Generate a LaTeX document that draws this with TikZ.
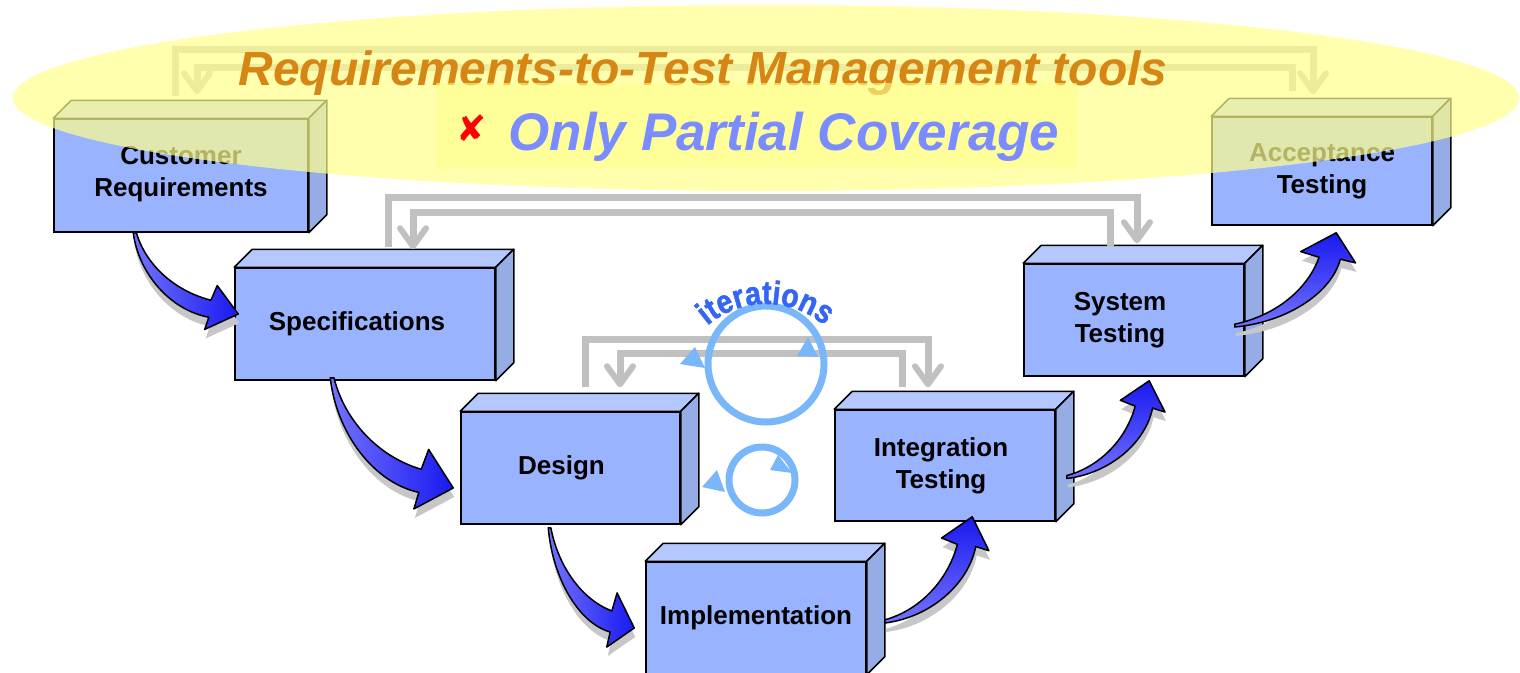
\documentclass[tikz,border=0pt]{standalone}
\usepackage{fontspec}
\setmainfont{Liberation Sans}
\newfontfamily\symfont{DejaVu Sans}
\newfontfamily\iterfont[FakeStretch=0.86, FakeBold=1.5]{Liberation Sans Bold}
\usepackage{tikz}
\usetikzlibrary{arrows.meta,decorations.text}

\definecolor{facecol}{RGB}{153,179,255}
\definecolor{topcol}{RGB}{180,199,255}
\definecolor{sidecol}{RGB}{150,172,228}
\definecolor{linkgray}{RGB}{192,192,192}
\definecolor{loopblue}{RGB}{122,183,250}
\definecolor{iterblue}{RGB}{51,102,245}
\definecolor{titleorange}{RGB}{214,134,20}
\definecolor{coverblue}{RGB}{122,140,255}
\definecolor{haze}{RGB}{255,255,140}
\definecolor{arrowlight}{RGB}{115,115,255}
\definecolor{arrowdark}{RGB}{25,25,240}

\tikzset{
  slab/.style = {draw=black, line width=1.5pt, fill=facecol, align=center,
    font=\fontsize{26}{32}\selectfont\bfseries, inner sep=0pt,
    minimum width=220pt, minimum height=112pt,
    append after command={\pgfextra{
      \draw[line width=1.5pt, fill=topcol, line join=round]
        (\tikzlastnode.north west) -- ++(18,-18)
        -- ([shift={(18,-18)}]\tikzlastnode.north east)
        -- (\tikzlastnode.north east) -- cycle;
      \draw[line width=1.5pt, fill=sidecol, line join=round]
        (\tikzlastnode.north east) -- ++(18,-18)
        -- ([shift={(18,-18)}]\tikzlastnode.south east)
        -- (\tikzlastnode.south east) -- cycle;}}},
  link/.style = {draw=linkgray, line width=7pt,
    -{Straight Barb[length=18pt, width=26pt, line width=6pt, round]}},
  loopring/.style = {circle, draw=loopblue, line width=7pt, inner sep=0pt},
  down frame/.style = {x={(\adx,0pt)}, y={(0pt,\ady)}},
  up frame/.style = {x={(0pt,\ady)}, y={(\adx,0pt)}},
  down shade/.style = {left color=arrowlight, right color=arrowdark},
  up shade/.style = {bottom color=arrowlight, top color=arrowdark}
}

\newcommand\bendpath{(0,0) .. controls (0.05,0.5) and (0.35,0.95) .. (0.72,1.04)
  -- (0.68,1.19) -- (1,1) -- (0.80,0.65) -- (0.74,0.83)
  .. controls (0.4,0.72) and (0.12,0.4) .. (0.03,0) -- cycle}
\newcommand\bentarrow[3]{%
  \pgfpointdiff{\pgfpointanchor{#1}{center}}{\pgfpointanchor{#2}{center}}%
  \pgfgetlastxy\adx\ady
  \begin{scope}[shift={(#1)}, #3 frame]
    \fill[black!22, shift={(1pt,-9pt)}] \bendpath;
    \shade[#3 shade, draw=black, line width=1.5pt, line join=round] \bendpath;
  \end{scope}}
\newcommand\itersfont{\iterfont\fontsize{33}{33}\selectfont}

\begin{document}
\begin{tikzpicture}[x=1pt, y=-1pt]
  \path[use as bounding box, fill=white] (0,0) rectangle (1520,672);

  \node[slab, minimum width=254pt, minimum height=113pt] (cust) at (181,175.5) {Customer\\Requirements\\[-24pt]};
  \node[slab, minimum width=260pt] (spec) at (365,324) {Specifications\hspace*{16pt}};
  \node[slab, minimum width=219pt] (design) at (570.5,468) {Design\hspace*{18pt}};
  \node[slab] (impl) at (756,618) {Implementation};
  \node[slab, minimum height=111pt] (integ) at (945,465.5) {Integration\hspace*{8pt}\\Testing\hspace*{8pt}};
  \node[slab] (sys) at (1134,320) {System\hspace*{28pt}\\Testing\hspace*{28pt}};
  \node[slab, minimum height=108pt] (accept) at (1322,171) {Acceptance\\Testing};

  \draw[link] ([shift={(-6,-22)}]cust.north) -- ++(0,-47) -| ([shift={(-9,-22)}]accept.north);
  \draw[link] ([shift={(-30,-25)}]accept.north) -- ++(0,-24) -| ([shift={(16,-24)}]cust.north);
  \draw[link] ([shift={(23,-20)}]spec.north) -- ++(0,-50) -| ([shift={(3,-20)}]sys.north);
  \draw[link] ([shift={(-24,-16)}]sys.north) -- ++(0,-35) -| ([shift={(48,-18)}]spec.north);
  \draw[link] ([shift={(14.5,-24)}]design.north) -- ++(0,-48) -| ([shift={(-17,-22)}]integ.north);
  \draw[link] ([shift={(-43,-22)}]integ.north) -- ++(0,-34) -| ([shift={(49.5,-24)}]design.north);

  \coordinate (a1) at ([shift={(80,0)}]cust.south west);
  \coordinate (b1) at ([shift={(4,-10)}]spec.west);
  \coordinate (a2) at ([shift={(96,-3)}]spec.south west);
  \coordinate (b2) at ([shift={(-7,20)}]design.west);
  \coordinate (a3) at ([shift={(88,3)}]design.south west);
  \coordinate (b3) at ([shift={(-11,10)}]impl.west);
  \coordinate (a4) at ([shift={(18,5)}]impl.east);
  \coordinate (b4) at ([shift={(138,-5)}]integ.south west);
  \coordinate (a5) at ([shift={(11,13)}]integ.east);
  \coordinate (b5) at ([shift={(126,4)}]sys.south west);
  \coordinate (a6) at ([shift={(-10,7)}]sys.east);
  \coordinate (b6) at ([shift={(125,7)}]accept.south west);
  \bentarrow{a1}{b1}{down}
  \bentarrow{a2}{b2}{down}
  \bentarrow{a3}{b3}{down}
  \bentarrow{a4}{b4}{up}
  \bentarrow{a5}{b5}{up}
  \bentarrow{a6}{b6}{up}

  \node[loopring, minimum size=116pt] (bigloop) at (766,364) {};
  \fill[loopblue] (680,364) -- (695,347) -- (705,368) -- cycle;
  \fill[loopblue] (797,356) -- (808,337) -- (818,357) -- cycle;
  \node[loopring, minimum size=66pt] (smallloop) at (762,480) {};
  \fill[loopblue] (770,470) -- (778,455) -- (792,473) -- cycle;
  \fill[loopblue] (702,487) -- (717,470) -- (725,492) -- cycle;
  \path[decorate, decoration={text along path, text align=center, text color=iterblue,
      text={|\itersfont|iterations}}]
    (766,394) ++(-170:90) arc[start angle=-170, end angle=-10, radius=90];

  \fill[haze, opacity=0.7] (766,98) ellipse[x radius=753, y radius=93];
  \node[anchor=base, text=titleorange, font=\fontsize{48}{48}\selectfont\bfseries\itshape]
    (title) at (703,85) {Requirements-to-Test Management tools};
  \fill[haze, opacity=0.6] (436,83) rectangle (1077,168);
  \node[text=red, font=\symfont\fontsize{36}{36}\selectfont] (xmark) at (472,128) {✘};
  \node[anchor=base, text=coverblue, font=\fontsize{53}{53}\selectfont\bfseries\itshape]
    (cover) at (784,150) {Only Partial Coverage};
\end{tikzpicture}
\end{document}
